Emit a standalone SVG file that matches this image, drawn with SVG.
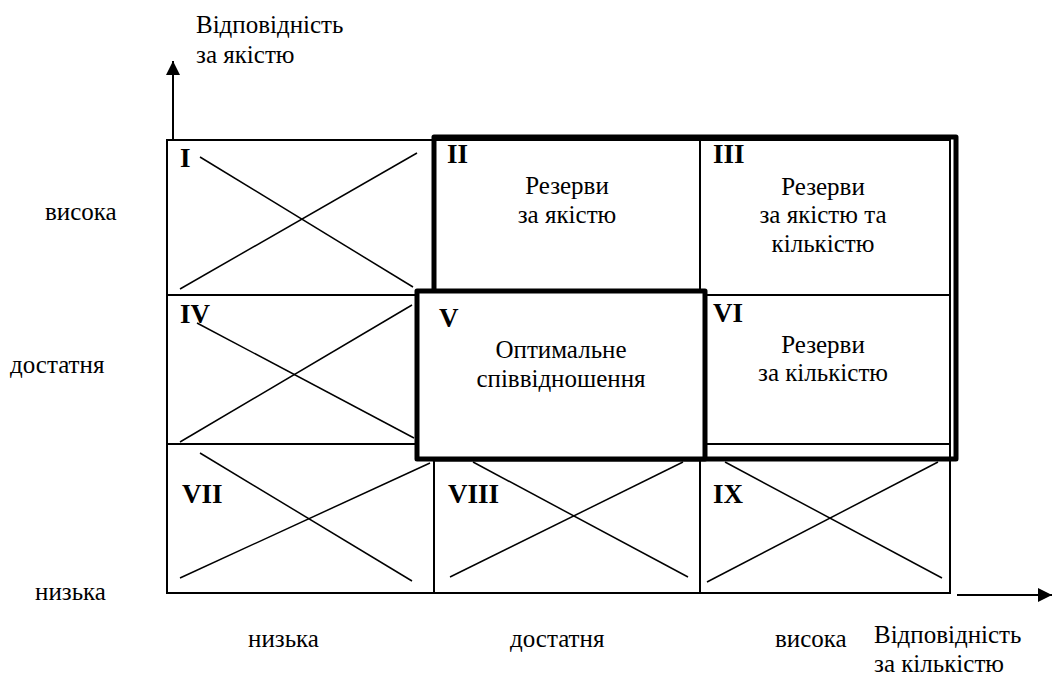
<svg xmlns="http://www.w3.org/2000/svg" width="1053" height="675" viewBox="0 0 1053 675">
  <defs>
    <marker id="arrowBig" viewBox="0 0 10 10" refX="10" refY="5" markerWidth="16" markerHeight="14" markerUnits="userSpaceOnUse" orient="auto">
      <path d="M0,0 L10,5 L0,10 Z" fill="#000"/>
    </marker>
  </defs>
  <style>
    text { font-family: 'Liberation Serif', 'Times New Roman', serif; fill: #000; }
    .t { font-size: 25px; }
    .c { text-anchor: middle; }
    .n { font-size: 27px; font-weight: bold; }
    .grid { stroke: #000; stroke-width: 2; fill: none; }
    .diag { stroke: #000; stroke-width: 1.5; }
    .thick { stroke: #000; stroke-width: 5; stroke-linejoin: round; }
    .axis { stroke: #000; stroke-width: 2; }
  </style>

  <rect width="1053" height="675" fill="#fff"/>

  <!-- base 3x3 grid -->
  <g id="grid" class="grid">
    <rect x="167" y="140" width="783" height="453"/>
    <line x1="434" y1="140" x2="434" y2="593"/>
    <line x1="700" y1="140" x2="700" y2="593"/>
    <line x1="167" y1="295" x2="950" y2="295"/>
    <line x1="167" y1="444" x2="950" y2="444"/>
  </g>

  <!-- connectors: axes and crossed-out cells -->
  <g id="connectors">
    <line class="axis" x1="173" y1="140" x2="173" y2="61" marker-end="url(#arrowBig)"/>
    <line class="axis" x1="957" y1="595" x2="1052" y2="595" marker-end="url(#arrowBig)"/>
    <g class="diag">
      <line x1="200" y1="157" x2="413" y2="287"/>
      <line x1="180" y1="289" x2="417" y2="153"/>
      <line x1="197" y1="323" x2="414" y2="438"/>
      <line x1="180" y1="442" x2="412" y2="305"/>
      <line x1="200" y1="453" x2="412" y2="581"/>
      <line x1="180" y1="578" x2="430" y2="463"/>
      <line x1="473" y1="462" x2="688" y2="577"/>
      <line x1="450" y1="577" x2="683" y2="462"/>
      <line x1="725" y1="462" x2="942" y2="578"/>
      <line x1="707" y1="582" x2="938" y2="462"/>
    </g>
  </g>

  <!-- reserve zone outline (II, III, VI) -->
  <g id="reserve-zone">
    <rect class="thick" x="434" y="137" width="522" height="322" fill="none"/>
  </g>

  <!-- optimal cell V -->
  <g id="cell-V">
    <rect class="thick" x="417" y="291" width="288" height="168" fill="#fff"/>
    <text class="n" x="439" y="327">V</text>
    <text class="t c" x="561" y="358">Оптимальне</text>
    <text class="t c" x="561" y="387">співвідношення</text>
  </g>

  <g id="cell-I"><text class="n" x="180" y="167">I</text></g>
  <g id="cell-II">
    <text class="n" x="447" y="163">II</text>
    <text class="t c" x="567" y="194">Резерви</text>
    <text class="t c" x="567" y="223">за якістю</text>
  </g>
  <g id="cell-III">
    <text class="n" x="713" y="163">III</text>
    <text class="t c" x="823" y="195">Резерви</text>
    <text class="t c" x="823" y="223">за якістю та</text>
    <text class="t c" x="823" y="252">кількістю</text>
  </g>
  <g id="cell-IV"><text class="n" x="180" y="323">IV</text></g>
  <g id="cell-VI">
    <text class="n" x="713" y="322">VI</text>
    <text class="t c" x="823" y="353">Резерви</text>
    <text class="t c" x="823" y="381">за кількістю</text>
  </g>
  <g id="cell-VII"><text class="n" x="182" y="503">VII</text></g>
  <g id="cell-VIII"><text class="n" x="448" y="503">VIII</text></g>
  <g id="cell-IX"><text class="n" x="713" y="503">IX</text></g>

  <!-- axis labels -->
  <g id="label-quality">
    <text class="t" x="196" y="33">Відповідність</text>
    <text class="t" x="196" y="63">за якістю</text>
  </g>
  <g id="label-quantity">
    <text class="t" x="874" y="643">Відповідність</text>
    <text class="t" x="874" y="672">за кількістю</text>
  </g>
  <g id="row-labels">
    <text class="t" x="45" y="220">висока</text>
    <text class="t" x="10" y="373">достатня</text>
    <text class="t" x="35" y="600">низька</text>
  </g>
  <g id="col-labels">
    <text class="t" x="248" y="647">низька</text>
    <text class="t" x="510" y="647">достатня</text>
    <text class="t" x="775" y="647">висока</text>
  </g>
</svg>
